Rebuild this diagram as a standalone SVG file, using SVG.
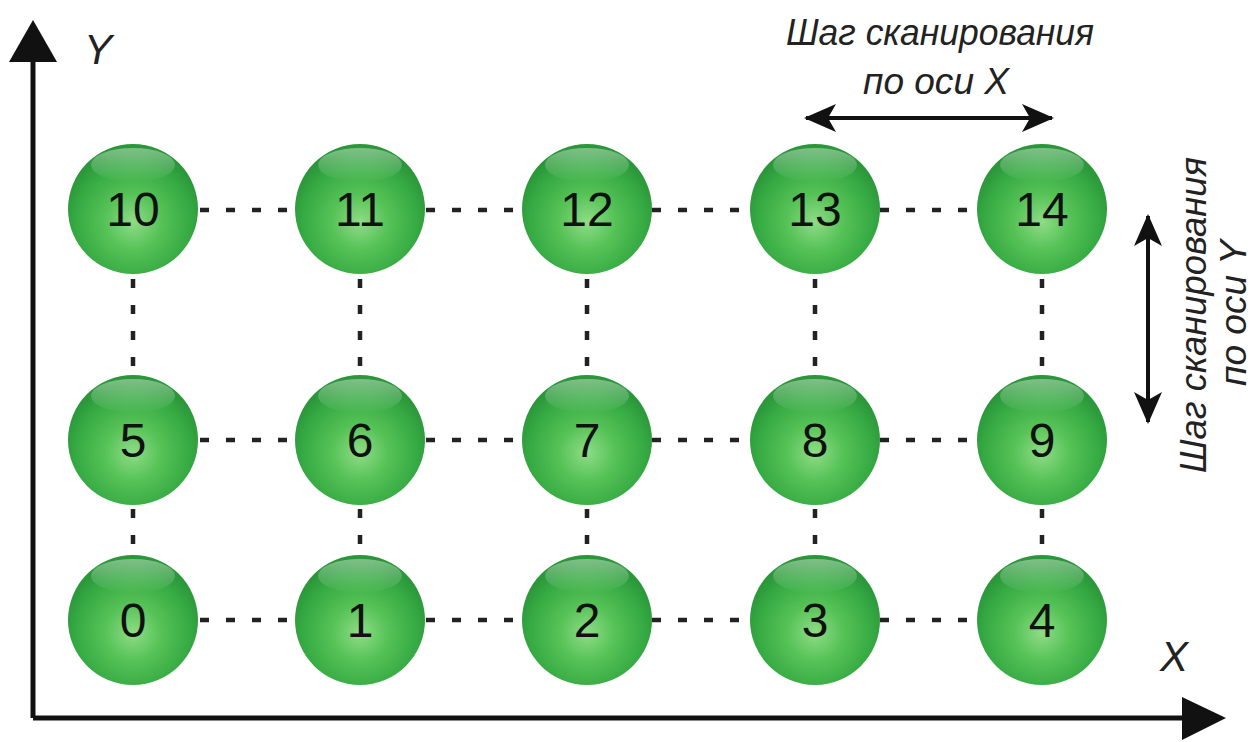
<svg xmlns="http://www.w3.org/2000/svg" width="1253" height="742" viewBox="0 0 1253 742">
<defs>
<radialGradient id="ball" cx="0.5" cy="0.6" r="0.55">
<stop offset="0" stop-color="#8fdc86"/>
<stop offset="0.4" stop-color="#55c256"/>
<stop offset="0.8" stop-color="#36aa43"/>
<stop offset="1" stop-color="#2b973a"/>
</radialGradient>
<linearGradient id="shine" x1="0" y1="0" x2="0" y2="1">
<stop offset="0" stop-color="#ffffff" stop-opacity="0.4"/>
<stop offset="1" stop-color="#ffffff" stop-opacity="0"/>
</linearGradient>
<g id="sphere">
<circle r="65" fill="url(#ball)"/>
<ellipse cx="0" cy="-44" rx="42" ry="17" fill="url(#shine)"/>
</g>
<marker id="dh" viewBox="0 0 32 28" refX="30" refY="14" markerWidth="32" markerHeight="28" markerUnits="userSpaceOnUse" orient="auto-start-reverse"><path d="M0 0 L32 14 L0 28 L8 14 Z" fill="#111"/></marker>
</defs>
<style>
.num{font-family:"Liberation Sans",Arial,sans-serif;font-size:48px;fill:#111;text-anchor:middle}
.lbl{font-family:"Liberation Sans",Arial,sans-serif;font-style:italic;fill:#222}
.dash{stroke:#222;stroke-width:4.5;stroke-dasharray:9 17;fill:none}
.axis{stroke:#111;stroke-width:5;fill:none}
.step{stroke:#111;stroke-width:4;fill:none}
</style>
<rect width="1253" height="742" fill="#fff"/>
<g id="connectors">
<path class="dash" d="M200 210H294 M426 210H522 M652 210H750 M880 210H978 M200 440H294 M426 440H522 M652 440H750 M880 440H978 M200 620H294 M426 620H522 M652 620H750 M880 620H978"/>
<path class="dash" d="M133 279V375 M133 509V555 M360 279V375 M360 509V555 M587 279V375 M587 509V555 M815 279V375 M815 509V555 M1042 279V375 M1042 509V555"/>
</g>
<g id="axes">
<line class="axis" x1="33" y1="718" x2="33" y2="58"/>
<path d="M33 20 L57 62 L9 62 Z" fill="#111"/>
<line class="axis" x1="33" y1="718" x2="1182" y2="718"/>
<path d="M1226 718 L1182 697 L1182 740 Z" fill="#111"/>
<text class="lbl" x="84" y="64" font-size="42">Y</text>
<text class="lbl" x="1160" y="671" font-size="42">X</text>
</g>
<g id="stepX">
<line class="step" x1="806" y1="118" x2="1052" y2="118" marker-start="url(#dh)" marker-end="url(#dh)"/>
<text class="lbl" x="940" y="45" font-size="37" text-anchor="middle" textLength="308" lengthAdjust="spacingAndGlyphs">Шаг сканирования</text>
<text class="lbl" x="936" y="94" font-size="37" text-anchor="middle" textLength="146" lengthAdjust="spacingAndGlyphs">по оси X</text>
</g>
<g id="stepY">
<line class="step" x1="1148" y1="216" x2="1148" y2="422" marker-start="url(#dh)" marker-end="url(#dh)"/>
<text class="lbl" transform="translate(1206 315) rotate(-90)" font-size="37" text-anchor="middle" textLength="316" lengthAdjust="spacingAndGlyphs">Шаг сканирования</text>
<text class="lbl" transform="translate(1246 313) rotate(-90)" font-size="36" text-anchor="middle" textLength="146" lengthAdjust="spacingAndGlyphs">по оси Y</text>
</g>
<g id="n10"><use href="#sphere" x="133" y="209"/><text class="num" x="133" y="226">10</text></g>
<g id="n11"><use href="#sphere" x="360" y="209"/><text class="num" x="360" y="226">11</text></g>
<g id="n12"><use href="#sphere" x="587" y="209"/><text class="num" x="587" y="226">12</text></g>
<g id="n13"><use href="#sphere" x="815" y="209"/><text class="num" x="815" y="226">13</text></g>
<g id="n14"><use href="#sphere" x="1042" y="209"/><text class="num" x="1042" y="226">14</text></g>
<g id="n5"><use href="#sphere" x="133" y="440"/><text class="num" x="133" y="457">5</text></g>
<g id="n6"><use href="#sphere" x="360" y="440"/><text class="num" x="360" y="457">6</text></g>
<g id="n7"><use href="#sphere" x="587" y="440"/><text class="num" x="587" y="457">7</text></g>
<g id="n8"><use href="#sphere" x="815" y="440"/><text class="num" x="815" y="457">8</text></g>
<g id="n9"><use href="#sphere" x="1042" y="440"/><text class="num" x="1042" y="457">9</text></g>
<g id="n0"><use href="#sphere" x="133" y="620"/><text class="num" x="133" y="637">0</text></g>
<g id="n1"><use href="#sphere" x="360" y="620"/><text class="num" x="360" y="637">1</text></g>
<g id="n2"><use href="#sphere" x="587" y="620"/><text class="num" x="587" y="637">2</text></g>
<g id="n3"><use href="#sphere" x="815" y="620"/><text class="num" x="815" y="637">3</text></g>
<g id="n4"><use href="#sphere" x="1042" y="620"/><text class="num" x="1042" y="637">4</text></g>
</svg>
